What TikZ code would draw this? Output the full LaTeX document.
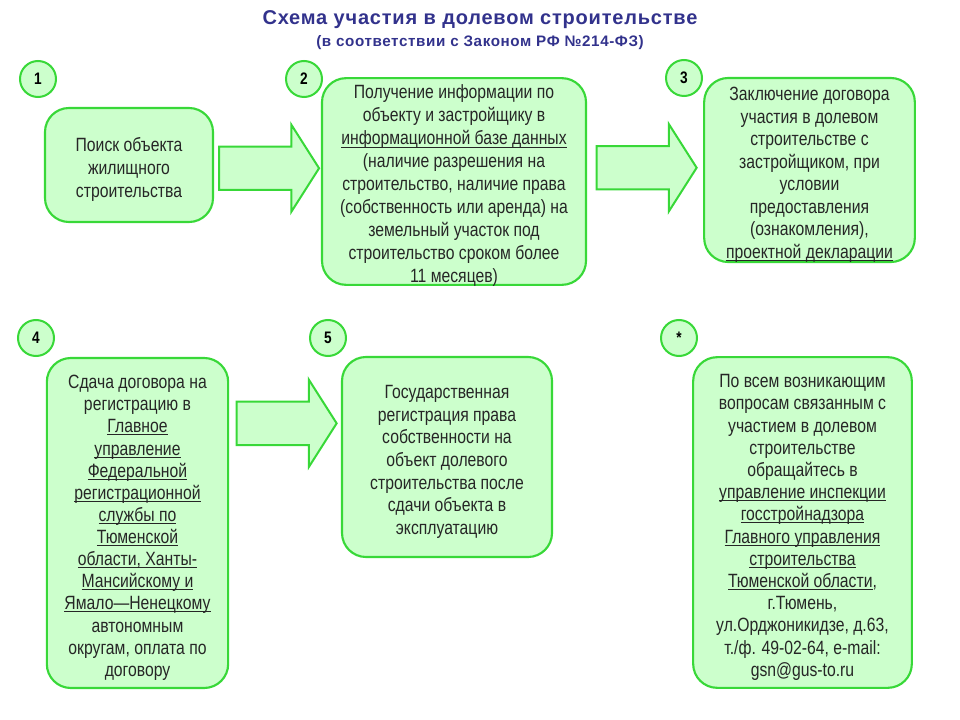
\documentclass[tikz,border=0pt]{standalone}
\usepackage{fontspec}
\setmainfont{Liberation Sans}[FakeStretch=0.82]
\newfontfamily\titlefont{Liberation Sans}[LetterSpace=4]
\usetikzlibrary{shapes.arrows,positioning}
\definecolor{boxgreen}{RGB}{204,255,204}
\definecolor{linegreen}{RGB}{56,216,56}
\definecolor{titleblue}{RGB}{50,50,140}
% underline close to the baseline, as in the slide
\newcommand{\uln}[1]{\setbox0\hbox{#1}\rlap{\rule[-1.9pt]{\wd0}{0.75pt}}\box0}
% a taller first line pushes the box text a little lower
\newcommand{\topln}{\rule{0pt}{17.2pt}}

\begin{document}
\begin{tikzpicture}[x=0.75pt,y=-0.75pt]
    \tikzstyle{box}=[rectangle,rounded corners=18pt,draw=linegreen,fill=boxgreen,line width=1.6pt,align=center,inner xsep=0pt,inner ysep=-4pt,text=black!85,font=\fontsize{14.4}{16.9}\selectfont]
    \tikzstyle{num}=[circle,draw=linegreen,fill=boxgreen,line width=1.5pt,minimum size=27pt,inner sep=0pt,font=\bfseries\fontsize{12.5}{12.5}\selectfont]
    \tikzstyle{blockarrow}=[single arrow,draw=linegreen,fill=boxgreen,line width=1.5pt,minimum height=75pt,inner xsep=0pt,inner ysep=15.5pt,single arrow head extend=16.5pt,single arrow tip angle=115,xshift=-4pt]

    \useasboundingbox (0,0) rectangle (960,720);

    % title
    \node[text=titleblue,font=\titlefont\bfseries\fontsize{15}{16}\selectfont] (title) at (480,20) {Схема участия в долевом строительстве};
    \node[text=titleblue,font=\titlefont\bfseries\fontsize{11.4}{12}\selectfont,below=-2pt of title] (subtitle) {(в соответствии с Законом РФ №214-ФЗ)};

    % step numbers
    \foreach \lbl/\x/\y [count=\i] in {1/38/79, 2/304/79, 3/684/78, 4/36/338, 5/328/338, */679/338}
    \node[num] (n-\i) at (\x,\y) {\lbl};

    % upper row
    \node[box,minimum width=126pt,minimum height=85.5pt] (b1) at (129,165)
      {\topln Поиск объекта\\ жилищного\\ строительства};
    \node[box,minimum width=198pt,minimum height=155pt,font=\fontsize{14.4}{17.25}\selectfont] (b2) at (454,181.5)
      {\topln Получение информации по\\ объекту и застройщику в\\ \uln{информационной базе данных}\\ (наличие разрешения на\\ строительство, наличие права\\ (собственность или аренда) на\\ земельный участок под\\ строительство сроком более\\ 11 месяцев)};
    \node[box,minimum width=158pt,minimum height=138pt] (b3) at (809.5,170)
      {\topln Заключение договора\\ участия в долевом\\ строительстве с\\ застройщиком, при\\ условии\\ предоставления\\ (ознакомления),\\ \uln{проектной декларации}};

    % lower row
    \node[box,minimum width=136pt,minimum height=247.5pt,font=\fontsize{14.4}{16.6}\selectfont] (b4) at (137.5,523)
      {\topln Сдача договора на\\ регистрацию в\\ \uln{Главное}\\ \uln{управление}\\ \uln{Федеральной}\\ \uln{регистрационной}\\ \uln{службы по}\\ \uln{Тюменской}\\ \uln{области, Ханты-}\\ \uln{Мансийскому и}\\ \uln{Ямало—Ненецкому}\\ автономным\\ округам, оплата по\\ договору};
    \node[box,minimum width=157.5pt,minimum height=150pt] (b5) at (447,457)
      {\topln Государственная\\ регистрация права\\ собственности на\\ объект долевого\\ строительства после\\ сдачи объекта в\\ эксплуатацию};
    \node[box,minimum width=164pt,minimum height=248pt,font=\fontsize{14.4}{16.65}\selectfont] (bs) at (802.5,522.5)
      {\topln По всем возникающим\\ вопросам связанным с\\ участием в долевом\\ строительстве\\ обращайтесь в\\ \uln{управление инспекции}\\ \uln{госстройнадзора}\\ \uln{Главного управления}\\ \uln{строительства}\\ \uln{Тюменской области},\\ г.Тюмень,\\ ул.Орджоникидзе, д.63,\\ т./ф. 49-02-64, e-mail:\\ gsn@gus-to.ru};

    % block arrows between the steps
    \path (b1.east) -- node[blockarrow,yshift=3.75pt] (a12) {} (b2.west);
    \path (b2.east) -- node[blockarrow,yshift=6pt] (a23) {} (b3.west);
    \path (b4.east) -- node[blockarrow,yshift=50pt] (a45) {} (b5.west);
\end{tikzpicture}
\end{document}
